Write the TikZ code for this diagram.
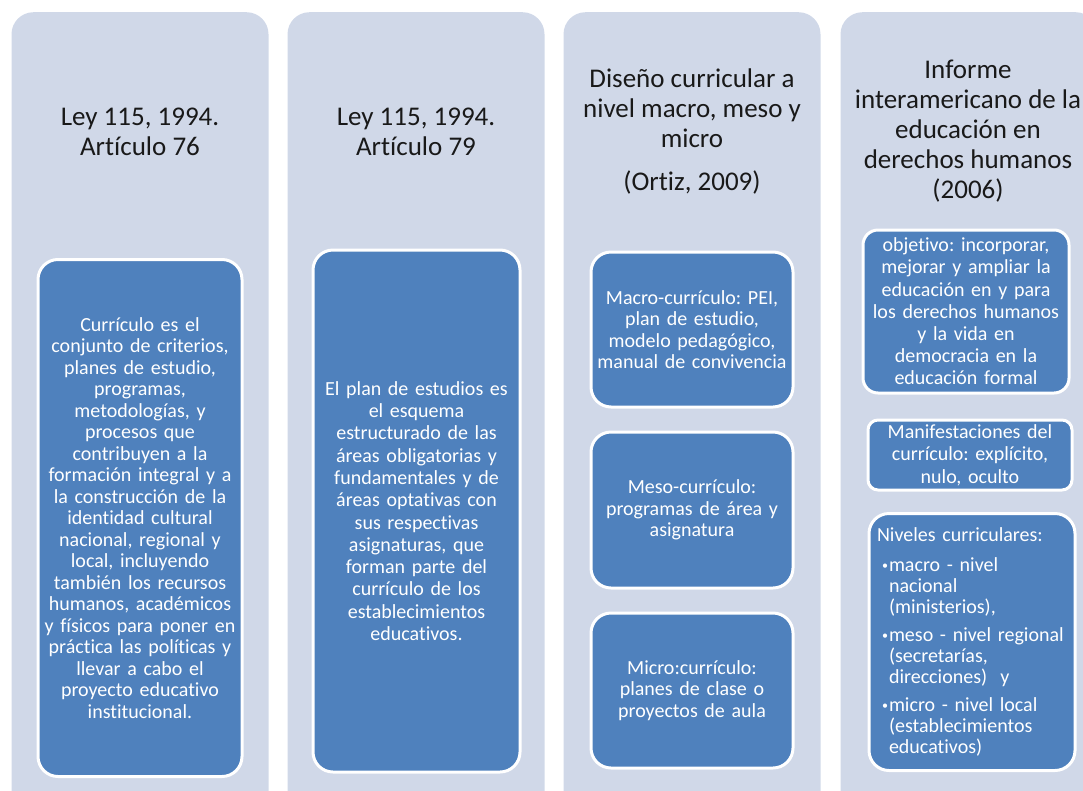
\documentclass[tikz,border=0pt]{standalone}
\usepackage{fontspec}
\setmainfont{Carlito}[Ligatures=NoCommon]
\frenchspacing
\hyphenpenalty=10000
\definecolor{colbg}{RGB}{208,216,232}
\definecolor{boxblue}{RGB}{79,129,189}
\tikzset{
  column/.style={fill=colbg, rounded corners=22pt, minimum width=257pt, minimum height=820pt, anchor=north, inner sep=0pt},
  heading/.style={align=center, text=black!90, font=\fontsize{27}{30}\selectfont},
  bluebox/.style={draw=white, line width=3pt, fill=boxblue, rounded corners=20pt, text=white, align=center, inner sep=2pt, font=\fontsize{20}{21.5}\selectfont},
}
\newcommand{\nivel}{\makebox[12pt][l]{\hspace{5pt}\raisebox{2.5pt}{\fontsize{12}{12}\selectfont\textbullet}}}
\begin{document}
\begin{tikzpicture}[x=1pt,y=-1pt]
  \useasboundingbox (0,0) rectangle (1083,790);
  \clip (0,0) rectangle (1083,790);
  % background columns
  \node[column] (col1) at (140,12) {};
  \node[column] (col2) at (416,12) {};
  \node[column] (col3) at (692,12) {};
  \node[column] (col4) at (969,12) {};
  % headings
  \node[heading] (ley76) at (140,132) {Ley 115, 1994.\\Artículo 76};
  \node[heading] (ley79) at (416,132) {Ley 115, 1994.\\Artículo 79};
  \node[heading] (ortiz) at (692,131) {Diseño curricular a\\nivel macro, meso y\\micro\\[13pt](Ortiz, 2009)};
  \node[heading] (informe) at (968,131) {Informe\\interamericano de la\\educación en\\derechos humanos\\(2006)};
  % column 1
  \node[bluebox, text width=200pt, minimum height=517pt] (curriculo) at (140,518) {Currículo es el\\conjunto de criterios,\\planes de estudio,\\programas,\\metodologías, y\\procesos que\\contribuyen a la\\formación integral y a\\la construcción de la\\identidad cultural\\nacional, regional y\\local, incluyendo\\también los recursos\\humanos, académicos\\y físicos para poner en\\práctica las políticas y\\llevar a cabo el\\proyecto educativo\\institucional.};
  % column 2
  \node[bluebox, text width=203pt, minimum height=522pt, font=\fontsize{20}{22.3}\selectfont] (plan) at (416.5,511) {El plan de estudios es\\el esquema\\estructurado de las\\áreas obligatorias y\\fundamentales y de\\áreas optativas con\\sus respectivas\\asignaturas, que\\forman parte del\\currículo de los\\establecimientos\\educativos.};
  % column 3
  \node[bluebox, text width=198pt, minimum height=155pt] (macro) at (692,329.5) {Macro-currículo: PEI,\\plan de estudio,\\modelo pedagógico,\\manual de convivencia};
  \node[bluebox, text width=198pt, minimum height=156pt] (meso) at (692,510) {Meso-currículo:\\programas de área y\\asignatura};
  \node[bluebox, text width=198pt, minimum height=155pt] (micro) at (692,690.5) {Micro:currículo:\\planes de clase o\\proyectos de aula};
  % column 4
  \node[bluebox, text width=202pt, minimum height=163pt, rounded corners=15pt, font=\fontsize{20}{22.2}\selectfont] (objetivo) at (966,311.5) {objetivo: incorporar,\\mejorar y ampliar la\\educación en y para\\los derechos humanos\\y la vida en\\democracia en la\\educación formal};
  \node[bluebox, text width=200pt, minimum height=70pt, rounded corners=10pt, font=\fontsize{20}{22.5}\selectfont] (manif) at (970,455) {Manifestaciones del\\currículo: explícito,\\nulo, oculto};
  \node[bluebox, text width=190pt, minimum width=206pt, minimum height=257pt, align=left, font=\fontsize{20}{21}\selectfont] (niveles) at (972,642) {Niveles curriculares:\\[9pt]
    \nivel macro - nivel\\\hspace*{12pt}nacional\\\hspace*{12pt}(ministerios),\\[7pt]
    \nivel meso - nivel regional\\\hspace*{12pt}(secretarías,\\\hspace*{12pt}direcciones)~ y\\[7pt]
    \nivel micro - nivel local\\\hspace*{12pt}(establecimientos\\\hspace*{12pt}educativos)};
\end{tikzpicture}
\end{document}
